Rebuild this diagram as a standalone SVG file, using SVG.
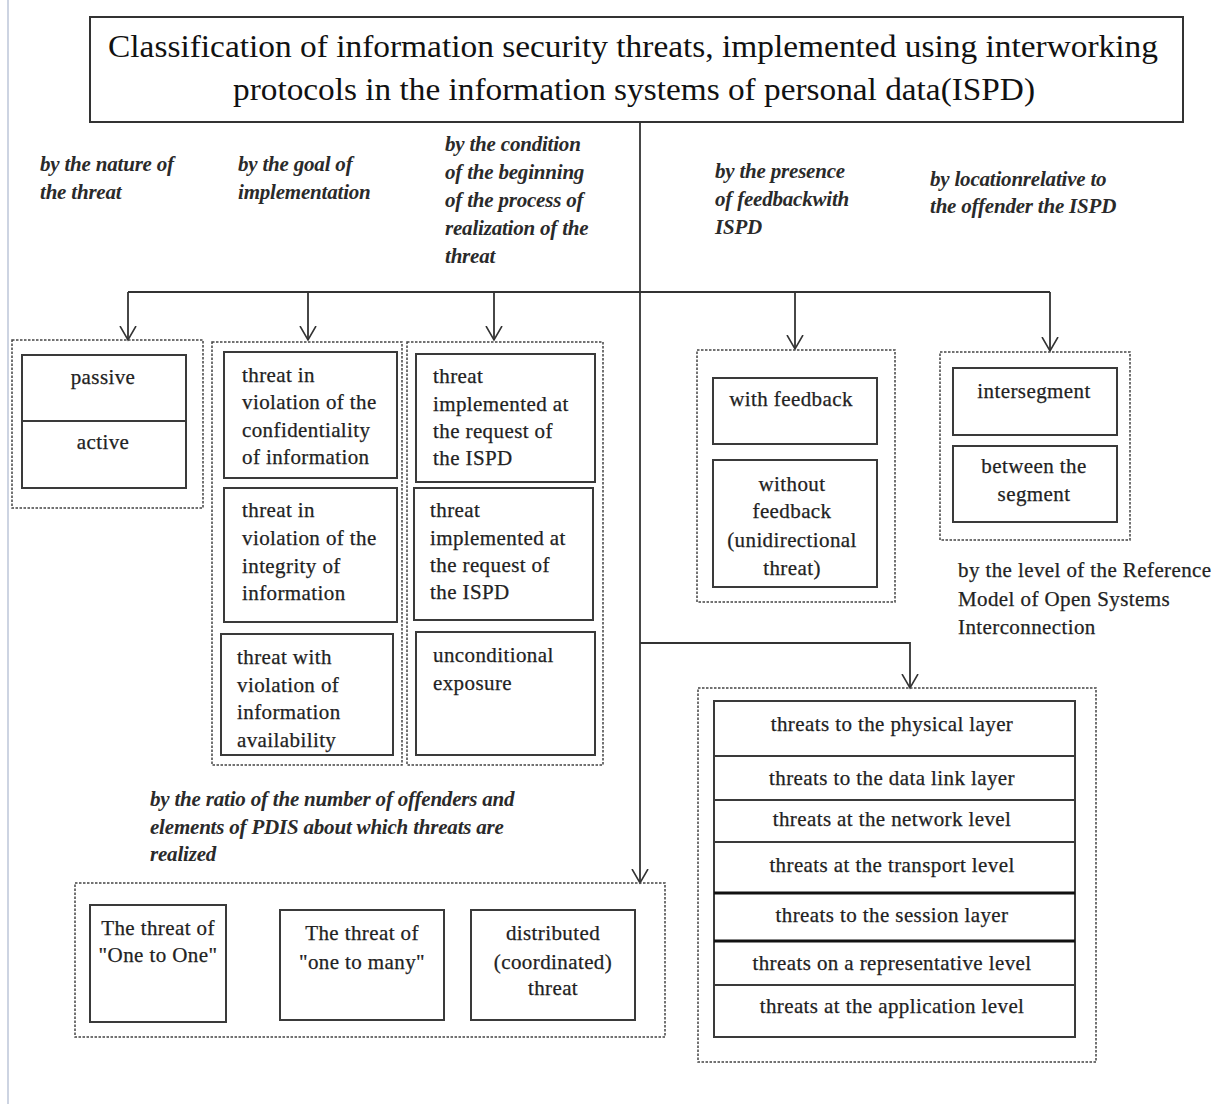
<svg xmlns="http://www.w3.org/2000/svg" width="1216" height="1104" viewBox="0 0 1216 1104">
<defs>
<marker id="arr" markerUnits="userSpaceOnUse" markerWidth="20" markerHeight="20" refX="14" refY="10" orient="auto" viewBox="0 0 20 20">
<path d="M0,2 L14,10 L0,18" fill="none" stroke="#333" stroke-width="1.6"/>
</marker>
<style>
.grp{fill:none;stroke:#444;stroke-width:1.5;stroke-dasharray:2.5,1.5}
.box{fill:#fff;stroke:#3a3a3a;stroke-width:2}
.div{stroke:#3a3a3a;stroke-width:2}
.thk{stroke:#111;stroke-width:3}
.t{font-family:"Liberation Serif",serif;font-size:21px;letter-spacing:0.4px;fill:#222;stroke:#222;stroke-width:0.25}
.c{text-anchor:middle}
.cat{font-family:"Liberation Serif",serif;font-size:21px;letter-spacing:-0.2px;font-style:italic;font-weight:bold;fill:#2a2a2a}
.ttl{font-family:"Liberation Serif",serif;font-size:32px;fill:#111}
.con{fill:none;stroke:#333;stroke-width:1.8}
</style>
</defs>
<rect width="1216" height="1104" fill="#fff"/>
<line x1="8" y1="0" x2="8" y2="1104" stroke="#cdd4e2" stroke-width="2"/>

<g id="title">
<rect x="90" y="17" width="1093" height="105" fill="#fff" stroke="#333" stroke-width="2"/>
<text class="ttl" x="108" y="57" textLength="1050" lengthAdjust="spacingAndGlyphs">Classification of information security threats, implemented using interworking</text>
<text class="ttl" x="233" y="100" textLength="802" lengthAdjust="spacingAndGlyphs">protocols in the information systems of personal data(ISPD)</text>
</g>

<g id="connectors">
<line class="con" x1="640" y1="122" x2="640" y2="292"/>
<line class="con" x1="128" y1="292" x2="1050" y2="292"/>
<path class="con" d="M128,292 V340" marker-end="url(#arr)"/>
<path class="con" d="M308,292 V340" marker-end="url(#arr)"/>
<path class="con" d="M494,292 V340" marker-end="url(#arr)"/>
<path class="con" d="M795,292 V349" marker-end="url(#arr)"/>
<path class="con" d="M1050,292 V351" marker-end="url(#arr)"/>
<path class="con" d="M640,292 V883" marker-end="url(#arr)"/>
<path class="con" d="M640,643 H910 V688" marker-end="url(#arr)"/>
</g>

<g id="labels">
<text class="cat"><tspan x="40" y="171">by the nature of</tspan><tspan x="40" y="199">the threat</tspan></text>
<text class="cat"><tspan x="238" y="171">by the goal of</tspan><tspan x="238" y="199">implementation</tspan></text>
<text class="cat"><tspan x="445" y="151">by the condition</tspan><tspan x="445" y="179">of the beginning</tspan><tspan x="445" y="207">of the process of</tspan><tspan x="445" y="235">realization of the</tspan><tspan x="445" y="263">threat</tspan></text>
<text class="cat"><tspan x="715" y="178">by the presence</tspan><tspan x="715" y="206">of  feedbackwith</tspan><tspan x="715" y="234">ISPD</tspan></text>
<text class="cat"><tspan x="930" y="186">by locationrelative to</tspan><tspan x="930" y="213">the offender the ISPD</tspan></text>
<text class="t" letter-spacing="0"><tspan x="958" y="577">by the level of the Reference</tspan><tspan x="958" y="606">Model of Open Systems</tspan><tspan x="958" y="634">Interconnection</tspan></text>
<text class="cat"><tspan x="150" y="806">by the ratio of the number of offenders and</tspan><tspan x="150" y="834">elements of PDIS about which threats are</tspan><tspan x="150" y="861">realized</tspan></text>
</g>

<g id="nature">
<rect class="grp" x="12" y="340" width="191" height="168"/>
<rect class="box" x="22" y="355" width="164" height="133"/>
<line class="div" x1="22" y1="421" x2="186" y2="421"/>
<text class="t c" x="103" y="384">passive</text>
<text class="t c" x="103" y="449">active</text>
</g>

<g id="goal">
<rect class="grp" x="212" y="342" width="190" height="423"/>
<rect class="box" x="224" y="352" width="173" height="126"/>
<text class="t"><tspan x="242" y="382">threat in</tspan><tspan x="242" y="409">violation of the</tspan><tspan x="242" y="437">confidentiality</tspan><tspan x="242" y="464">of information</tspan></text>
<rect class="box" x="224" y="488" width="173" height="134"/>
<text class="t"><tspan x="242" y="517">threat in</tspan><tspan x="242" y="545">violation of the</tspan><tspan x="242" y="573">integrity of</tspan><tspan x="242" y="600">information</tspan></text>
<rect class="box" x="221" y="634" width="172" height="121"/>
<text class="t"><tspan x="237" y="664">threat with</tspan><tspan x="237" y="692">violation of</tspan><tspan x="237" y="719">information</tspan><tspan x="237" y="747">availability</tspan></text>
</g>

<g id="condition">
<rect class="grp" x="407" y="342" width="196" height="423"/>
<rect class="box" x="416" y="354" width="179" height="128"/>
<text class="t"><tspan x="433" y="383">threat</tspan><tspan x="433" y="411">implemented at</tspan><tspan x="433" y="438">the request of</tspan><tspan x="433" y="465">the ISPD</tspan></text>
<rect class="box" x="414" y="488" width="179" height="132"/>
<text class="t"><tspan x="430" y="517">threat</tspan><tspan x="430" y="545">implemented at</tspan><tspan x="430" y="572">the request of</tspan><tspan x="430" y="599">the ISPD</tspan></text>
<rect class="box" x="416" y="632" width="179" height="123"/>
<text class="t"><tspan x="433" y="662">unconditional</tspan><tspan x="433" y="690">exposure</tspan></text>
</g>

<g id="feedback">
<rect class="grp" x="697" y="350" width="198" height="252"/>
<rect class="box" x="713" y="378" width="164" height="66"/>
<text class="t c" x="791" y="406">with feedback</text>
<rect class="box" x="713" y="460" width="164" height="127"/>
<text class="t c"><tspan x="792" y="491">without</tspan><tspan x="792" y="518">feedback</tspan><tspan x="792" y="547">(unidirectional</tspan><tspan x="792" y="575">threat)</tspan></text>
</g>

<g id="location">
<rect class="grp" x="940" y="352" width="190" height="188"/>
<rect class="box" x="953" y="368" width="164" height="67"/>
<text class="t c" x="1034" y="398">intersegment</text>
<rect class="box" x="953" y="446" width="164" height="76"/>
<text class="t c"><tspan x="1034" y="473">between the</tspan><tspan x="1034" y="501">segment</tspan></text>
</g>

<g id="osi">
<rect class="grp" x="698" y="688" width="398" height="374"/>
<rect class="box" x="714" y="701" width="361" height="336"/>
<line class="div" x1="714" y1="756" x2="1075" y2="756"/>
<line class="div" x1="714" y1="800" x2="1075" y2="800"/>
<line class="div" x1="714" y1="842" x2="1075" y2="842"/>
<line class="thk" x1="714" y1="893" x2="1075" y2="893"/>
<line class="thk" x1="714" y1="941" x2="1075" y2="941"/>
<line class="div" x1="714" y1="985" x2="1075" y2="985"/>
<text class="t c" x="892" y="731">threats to the physical layer</text>
<text class="t c" x="892" y="785">threats to the data link layer</text>
<text class="t c" x="892" y="826">threats at the network level</text>
<text class="t c" x="892" y="872">threats at the transport level</text>
<text class="t c" x="892" y="922">threats to the session layer</text>
<text class="t c" x="892" y="970">threats on a representative level</text>
<text class="t c" x="892" y="1013">threats at the application level</text>
</g>

<g id="ratio">
<rect class="grp" x="75" y="883" width="590" height="154"/>
<rect class="box" x="90" y="905" width="136" height="117"/>
<text class="t c"><tspan x="158" y="935">The threat of</tspan><tspan x="158" y="962">"One to One"</tspan></text>
<rect class="box" x="280" y="910" width="164" height="110"/>
<text class="t c"><tspan x="362" y="940">The threat of</tspan><tspan x="362" y="969">"one to many"</tspan></text>
<rect class="box" x="471" y="910" width="164" height="110"/>
<text class="t c"><tspan x="553" y="940">distributed</tspan><tspan x="553" y="969">(coordinated)</tspan><tspan x="553" y="995">threat</tspan></text>
</g>
</svg>
